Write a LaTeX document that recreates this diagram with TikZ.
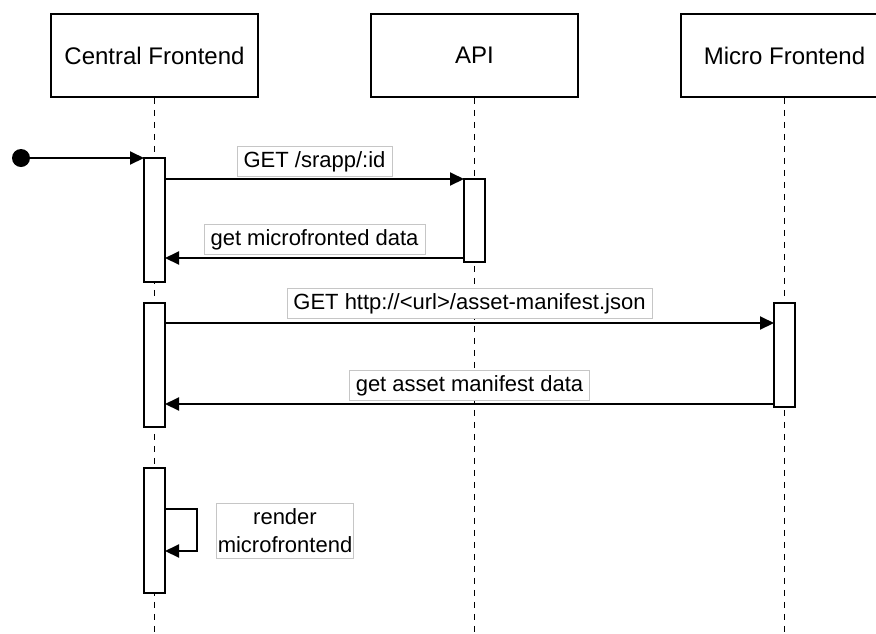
\documentclass[tikz,border=0pt]{standalone}
\usepackage{fontspec}
\setmainfont{Liberation Sans}
\usetikzlibrary{arrows.meta,calc}
\begin{document}
\begin{tikzpicture}[x=1pt,y=-1pt,
  participant/.style={draw, line width=1.8pt, minimum width=207pt, minimum height=83pt,
    inner sep=0pt, font=\fontsize{24}{29}\selectfont},
  activation/.style={draw, fill=white, line width=1.8pt, minimum width=21pt, inner sep=0pt, outer sep=0pt},
  lifeline/.style={line width=1.6pt, dash pattern=on 6pt off 6pt},
  msg/.style={line width=2pt, -{Triangle[length=14pt,width=13pt]}},
  msglabel/.style={fill=white, draw=gray!45, line width=0.8pt, font=\fontsize{22}{28}\selectfont,
    inner xsep=6.5pt, inner ysep=4pt, text height=17pt, text depth=5pt, anchor=south},
  looplabel/.style={fill=white, draw=gray!45, line width=0.8pt, font=\fontsize{22}{28}\selectfont,
    align=center, inner xsep=1.5pt, inner ysep=5.5pt}]
\useasboundingbox (0,0) rectangle (876,633);
\clip (0,0) rectangle (876,633);

% participants
\node[participant] (cf)  at (154.5,55.5) {Central Frontend};
\node[participant] (api) at (474.5,55.5) {API};
\node[participant] (mf)  at (784.5,55.5) {Micro Frontend};

% lifelines
\coordinate (cfEnd)  at (154.5,640);
\coordinate (apiEnd) at (474.5,640);
\coordinate (mfEnd)  at (784.5,640);
\draw[lifeline] (cf.south)  -- (cfEnd);
\draw[lifeline] (api.south) -- (apiEnd);
\draw[lifeline] (mf.south)  -- (mfEnd);

% activation bars
\node[activation, minimum height=124pt] (c1) at (154.5,220)   {};
\node[activation, minimum height=83pt]  (a1) at (474.5,220.5) {};
\node[activation, minimum height=124pt] (c2) at (154.5,365)   {};
\node[activation, minimum height=104pt] (m1) at (784.5,355)   {};
\node[activation, minimum height=125pt] (c3) at (154.5,530.5) {};

% message levels
\coordinate (lvB) at (0,258);
\coordinate (lvC) at (0,323);
\coordinate (lvD) at (0,404);
\coordinate (lvE) at (0,509);
\coordinate (lvF) at (0,551);

% initial call
\node[circle, fill=black, minimum size=18pt, inner sep=0pt] (start) at (21,158) {};
\draw[msg] (start) -- (start -| c1.west);

% messages
\draw[msg] (c1.east |- a1.north west) -- (a1.north west)
  node[msglabel, pos=0.5, yshift=2pt] (lA) {GET /srapp/:id};
\draw[msg] (a1.west |- lvB) -- (c1.east |- lvB)
  node[msglabel, pos=0.5, yshift=3pt] (lB) {get microfronted data};
\draw[msg] (c2.east |- lvC) -- (m1.west |- lvC)
  node[msglabel, pos=0.5, yshift=4pt] (lC) {GET http://<url>/asset-manifest.json};
\draw[msg] (m1.west |- lvD) -- (c2.east |- lvD)
  node[msglabel, pos=0.5, yshift=3pt] (lD) {get asset manifest data};

% self call
\draw[msg] (c3.east |- lvE) -- ++(32,0) -- ++(0,42) -- (c3.east |- lvF);
\node[looplabel] (lE) at (285,530.5) {render\\microfrontend};
\end{tikzpicture}
\end{document}
